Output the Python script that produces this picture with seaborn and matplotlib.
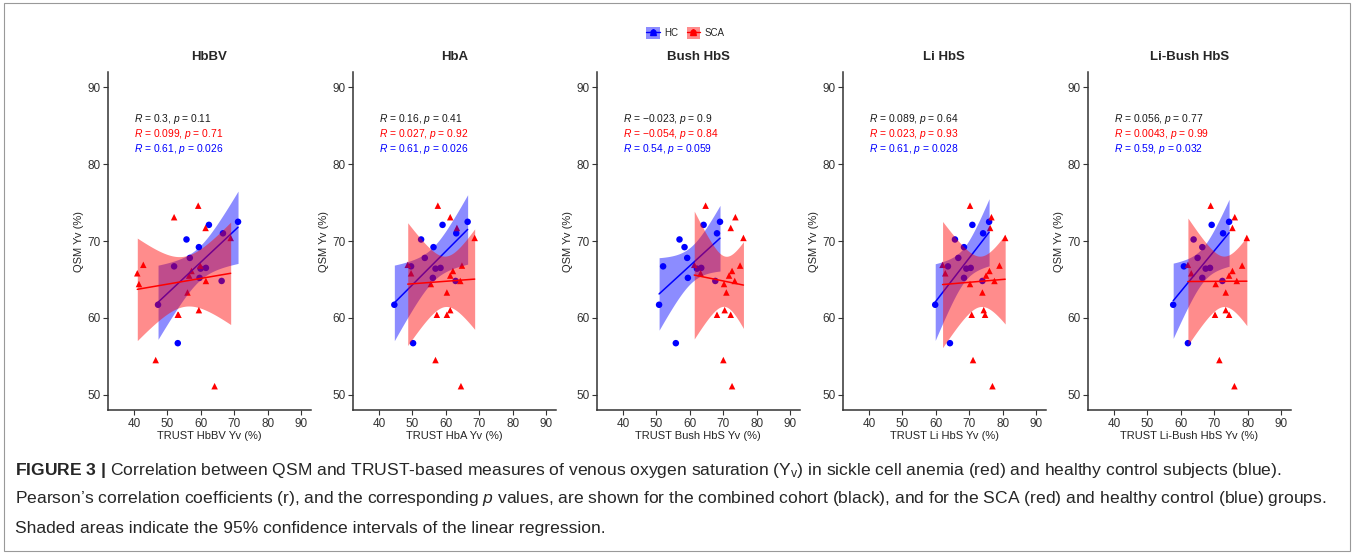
import numpy as np
import pandas as pd
import matplotlib
matplotlib.use('Agg')
import matplotlib.pyplot as plt
import seaborn as sns
from matplotlib.patches import Patch, Rectangle
from matplotlib.lines import Line2D

# QSM Yv (%) per subject, shared by all panels
hc_qsm = [72.5, 72.1, 71.0, 70.2, 69.2, 67.8, 66.7, 66.5, 66.4, 65.2, 64.8, 61.7, 56.7]
sca_qsm = [74.6, 73.1, 71.7, 70.4, 66.9, 66.8, 66.1, 65.8, 65.5, 64.8, 64.4, 63.3, 61.0, 60.4, 60.4, 54.5, 51.1]

# TRUST Yv (%) per model, same subject order
hc_hbbv = [71.1, 62.4, 66.6, 55.7, 59.4, 56.7, 52.0, 61.5, 59.9, 59.6, 66.2, 47.2, 53.1]
hc_hba = [66.5, 59.0, 63.1, 52.6, 56.3, 53.7, 49.6, 58.4, 56.9, 56.1, 62.9, 44.6, 50.2]
hc_bush = [69.0, 64.1, 68.1, 56.9, 58.4, 59.2, 52.0, 63.4, 62.1, 59.4, 67.6, 50.8, 55.8]
hc_li = [75.9, 70.9, 74.1, 65.7, 68.4, 66.7, 63.6, 70.4, 69.1, 68.4, 73.9, 59.8, 64.2]
hc_libush = [74.4, 69.2, 72.6, 63.8, 66.4, 65.0, 60.9, 68.7, 67.4, 66.4, 72.4, 57.7, 62.1]

sca_hbbv = [59.2, 52.0, 61.4, 68.9, 42.8, 59.8, 57.2, 41.0, 56.5, 61.5, 41.5, 56.0, 59.4, 53.1, 53.3, 46.5, 64.1]
sca_hba = [57.6, 61.3, 63.3, 68.6, 48.6, 64.8, 62.1, 49.6, 61.3, 64.3, 55.5, 60.3, 61.3, 57.3, 60.3, 56.9, 64.5]
sca_bush = [64.7, 73.6, 72.2, 76.0, 61.3, 75.0, 72.6, 63.2, 71.7, 73.4, 70.2, 70.9, 70.4, 68.1, 72.2, 70.0, 72.6]
sca_li = [70.2, 76.6, 76.2, 80.7, 62.0, 79.0, 76.0, 62.8, 75.0, 77.5, 70.2, 73.9, 74.3, 70.7, 74.7, 71.1, 76.9]
sca_libush = [68.9, 76.1, 75.4, 79.7, 62.1, 78.3, 75.4, 63.1, 74.4, 76.7, 70.4, 73.4, 73.4, 70.2, 74.4, 71.5, 76.0]

titles = ["HbBV", "HbA", "Bush HbS", "Li HbS", "Li-Bush HbS"]
hc_x = [hc_hbbv, hc_hba, hc_bush, hc_li, hc_libush]
sca_x = [sca_hbbv, sca_hba, sca_bush, sca_li, sca_libush]

# printed stats: (all, SCA, HC)
stats = [
    [("0.3", "0.11"), ("0.099", "0.71"), ("0.61", "0.026")],
    [("0.16", "0.41"), ("0.027", "0.92"), ("0.61", "0.026")],
    [("\u22120.023", "0.9"), ("\u22120.054", "0.84"), ("0.54", "0.059")],
    [("0.089", "0.64"), ("0.023", "0.93"), ("0.61", "0.028")],
    [("0.056", "0.77"), ("0.0043", "0.99"), ("0.59", "0.032")],
]

BLUE = "#0000FF"
RED = "#FF0000"
T95 = {11: 2.201, 15: 2.131}  # t quantiles for the 95% band

sns.set_style("white")
plt.rcParams['font.family'] = ['Liberation Sans', 'DejaVu Sans']
plt.rcParams['mathtext.fontset'] = 'custom'
plt.rcParams['mathtext.rm'] = 'Liberation Sans'
plt.rcParams['mathtext.it'] = 'Liberation Sans:italic'
plt.rcParams['mathtext.bf'] = 'Liberation Sans:bold'

W, H = 1355, 554
fig = plt.figure(figsize=(W / 100, H / 100), dpi=100)

lefts = [108, 353, 597, 843, 1088]
for i, title in enumerate(titles):
    ax = fig.add_axes([lefts[i] / W, 144 / H, 202.5 / W, 338 / H])
    df = pd.DataFrame({
        "x": hc_x[i] + sca_x[i],
        "y": hc_qsm + sca_qsm,
        "group": ["HC"] * len(hc_qsm) + ["SCA"] * len(sca_qsm),
    })
    sns.scatterplot(data=df, x="x", y="y", hue="group", style="group",
                    palette={"HC": BLUE, "SCA": RED}, markers={"HC": "o", "SCA": "^"},
                    s=22, edgecolor="none", legend=False, ax=ax, zorder=1)

    # regression with 95% CI band: band then line per group (HC first)
    z = 2
    for grp, col in [("HC", BLUE), ("SCA", RED)]:
        sub = df[df.group == grp]
        xs, ys = sub.x.values, sub.y.values
        n = len(xs)
        b, a = np.polyfit(xs, ys, 1)
        grid = np.linspace(xs.min(), xs.max(), 100)
        fit = a + b * grid
        s = np.sqrt(np.sum((ys - (a + b * xs)) ** 2) / (n - 2))
        se = s * np.sqrt(1 / n + (grid - xs.mean()) ** 2 / np.sum((xs - xs.mean()) ** 2))
        t = T95[n - 2]
        ax.fill_between(grid, fit - t * se, fit + t * se, color=col, alpha=0.45, lw=0, zorder=z)
        sns.regplot(x=xs, y=ys, scatter=False, ci=None, color=col, truncate=True,
                    line_kws={"lw": 1.1, "zorder": z + 1}, ax=ax)
        z += 2

    for (r, p), col, yy in zip(stats[i], ["#1a1a1a", RED, BLUE], [85.9, 83.95, 82.0]):
        ax.text(40, yy, rf"$R$ = {r}, $p$ = {p}", color=col, fontsize=7.4, ha="left", va="center")

    ax.set_xlim(32.25, 92.75)
    ax.set_ylim(48, 92)
    ax.set_xticks([40, 50, 60, 70, 80, 90])
    ax.set_yticks([50, 60, 70, 80, 90])
    sns.despine(ax=ax)
    for sp in ["left", "bottom"]:
        ax.spines[sp].set_color("#333333")
        ax.spines[sp].set_linewidth(1.1)
    ax.tick_params(bottom=True, left=True, length=3.5, width=0.8, color="#333333",
                   labelsize=8.5, labelcolor="#333333", pad=2)
    ax.set_xlabel(f"TRUST {title} Yv (%)", fontsize=8, labelpad=1)
    ax.set_ylabel("QSM Yv (%)", fontsize=8, labelpad=2)
    ax.set_title(title, fontsize=9.5, fontweight="bold", pad=9)

def key(col):
    return (Patch(facecolor=col, alpha=0.45, edgecolor="none"),
            Line2D([], [], color=col, lw=1),
            Line2D([], [], color=col, marker="o", ls="", ms=3.5),
            Line2D([], [], color=col, marker="^", ls="", ms=4))

fig.legend(handles=[key(BLUE), key(RED)], labels=["HC", "SCA"], loc="center",
           bbox_to_anchor=(0.506, 1 - 33 / H), ncol=2, frameon=False, fontsize=7,
           handlelength=1.4, handleheight=1.4, columnspacing=0.8, handletextpad=0.5)

cap = [
    r"$\mathbf{FIGURE\ 3\ |}$ Correlation between QSM and TRUST-based measures of venous oxygen saturation ($\mathrm{Y_v}$) in sickle cell anemia (red) and healthy control subjects (blue).",
    r"Pearson’s correlation coefficients (r), and the corresponding $p$ values, are shown for the combined cohort (black), and for the SCA (red) and healthy control (blue) groups.",
    r"Shaded areas indicate the 95% confidence intervals of the linear regression.",
]
for line, yy in zip(cap, [470, 499, 528]):
    fig.text(15 / W, 1 - yy / H, line, fontsize=12.6, ha="left", va="center")

fig.add_artist(Rectangle((4 / W, 3 / H), 1 - 9 / W, 1 - 6 / H, transform=fig.transFigure,
                         fill=False, ec="#999999", lw=0.8))

fig.savefig("out.png", dpi=100)
